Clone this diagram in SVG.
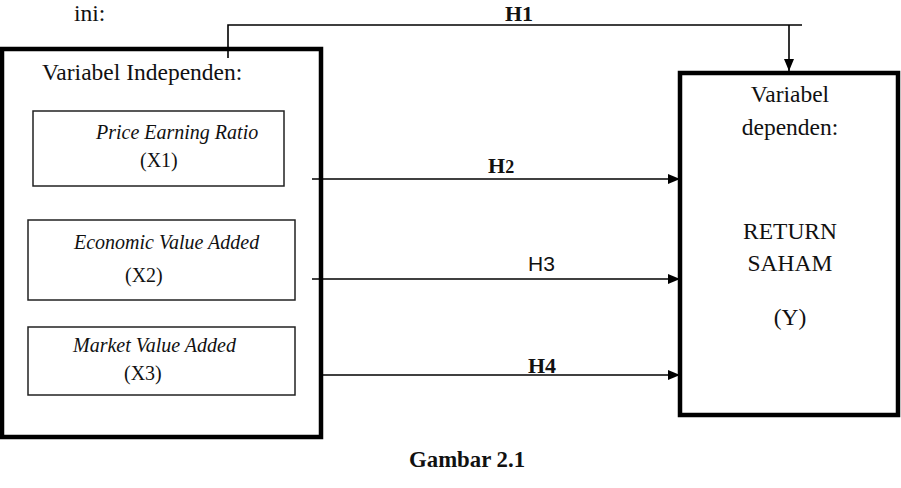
<svg xmlns="http://www.w3.org/2000/svg" width="901" height="488" viewBox="0 0 901 488" font-family="'Liberation Serif','Times New Roman',serif">
<style>
text{font-family:"Liberation Serif","Times New Roman",serif;fill:#111}
.t{font-size:23.5px}
.s{font-size:20px}
.it{font-size:20px;font-style:italic}
.b{font-size:22px;font-weight:bold}
.big{fill:#fff;stroke:#000;stroke-width:4.5}
.small{fill:#fff;stroke:#222;stroke-width:1.5}
.c{fill:none;stroke:#000;stroke-width:1.6}
</style>
<defs>
<marker id="ah" viewBox="0 0 12 10" refX="12" refY="5" markerWidth="12" markerHeight="10" markerUnits="userSpaceOnUse" orient="auto">
<path d="M0,0 L12,5 L0,10 Z" fill="#000"/>
</marker>
</defs>
<text class="t" x="74" y="21">ini:</text>
<g id="independen">
<rect class="big" x="2" y="49" width="319" height="388"/>
<text class="t" x="42" y="80">Variabel Independen:</text>
</g>
<g id="x1">
<rect class="small" x="33" y="111" width="251" height="75"/>
<text class="it" x="96" y="139">Price Earning Ratio</text>
<text class="s" x="140" y="167">(X1)</text>
</g>
<g id="x2">
<rect class="small" x="28" y="220" width="267" height="80"/>
<text class="it" x="74" y="249">Economic Value Added</text>
<text class="s" x="125" y="282">(X2)</text>
</g>
<g id="x3">
<rect class="small" x="28" y="327" width="267" height="68"/>
<text class="it" x="73" y="352">Market Value Added</text>
<text class="s" x="124" y="380">(X3)</text>
</g>
<g id="dependen">
<rect class="big" x="680" y="73" width="218" height="342"/>
<text class="t" x="790" y="102" text-anchor="middle">Variabel</text>
<text class="t" x="790" y="135" text-anchor="middle">dependen:</text>
<text class="t" x="790" y="239" text-anchor="middle">RETURN</text>
<text class="t" x="790" y="271" text-anchor="middle">SAHAM</text>
<text class="t" x="790" y="325" text-anchor="middle">(Y)</text>
</g>
<g id="connectors">
<path class="c" d="M228,58 V25 H802"/>
<path class="c" d="M789,25 V71" marker-end="url(#ah)"/>
<path class="c" d="M312,179 H680" marker-end="url(#ah)"/>
<path class="c" d="M312,279 H680" marker-end="url(#ah)"/>
<path class="c" d="M322,375 H680" marker-end="url(#ah)"/>
<text class="b" x="505" y="21">H1</text>
<text class="b" x="488" y="173">H<tspan font-size="18">2</tspan></text>
<text x="528" y="271" style="font-family:'Liberation Sans',Arial,sans-serif;font-size:21px">H3</text>
<text class="b" x="528" y="373">H4</text>
</g>
<text class="b" x="409" y="467" style="font-size:22.8px">Gambar 2.1</text>
</svg>
